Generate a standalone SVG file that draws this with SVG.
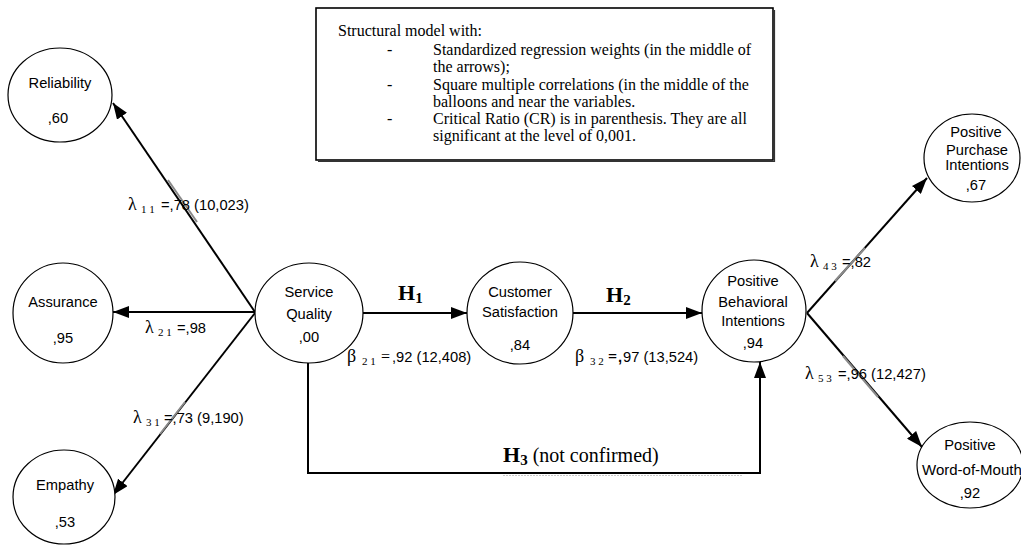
<svg xmlns="http://www.w3.org/2000/svg" width="1021" height="546" viewBox="0 0 1021 546">
<style>
.node{fill:#fff;stroke:#000;stroke-width:1.2}
.lbl{font-family:"Liberation Sans",Arial,sans-serif;font-size:14.7px;fill:#000;text-anchor:middle}
.note{font-family:"Liberation Serif","Times New Roman",serif;font-size:16px;fill:#000}
.conn{stroke:#000;stroke-width:2;fill:none}
.gray{stroke:#8a8a8a;stroke-width:2;fill:none}
.coef{font-family:"Liberation Sans",Arial,sans-serif;font-size:14.7px;fill:#000}
.gr{font-family:"Liberation Serif","Times New Roman",serif;font-size:18px}
.sub{font-family:"Liberation Serif","Times New Roman",serif;font-size:11px}
.hyp{font-family:"Liberation Serif","Times New Roman",serif;font-weight:bold;font-size:22px;fill:#000}
.hsub{font-family:"Liberation Serif","Times New Roman",serif;font-weight:bold;font-size:15px}
</style>
<defs>
<marker id="ah" markerUnits="userSpaceOnUse" viewBox="0 0 16 12" markerWidth="16" markerHeight="12" refX="16" refY="6" orient="auto">
<path d="M0,0 L16,6 L0,12 z" fill="#000"/>
</marker>
</defs>
<rect width="1021" height="546" fill="#fff"/>

<g id="legend">
<rect x="316" y="8" width="457" height="152" fill="#fff" stroke="#000" stroke-width="1.6"/>
<polyline points="318,161.5 774.5,161.5 774.5,10" fill="none" stroke="#333" stroke-width="1.2"/>
<text class="note" x="338" y="36">Structural model with:</text>
<text class="note" x="387" y="55">-</text>
<text class="note" x="433" y="55">Standardized regression weights (in the middle of</text>
<text class="note" x="433" y="72">the arrows);</text>
<text class="note" x="387" y="90">-</text>
<text class="note" x="433" y="90">Square multiple correlations (in the middle of the</text>
<text class="note" x="433" y="107">balloons and near the variables.</text>
<text class="note" x="387" y="124">-</text>
<text class="note" x="433" y="124">Critical Ratio (CR) is in parenthesis. They are all</text>
<text class="note" x="433" y="141">significant at the level of 0,001.</text>
</g>

<g id="connectors">
<line class="conn" x1="255" y1="312" x2="113" y2="103" marker-end="url(#ah)"/>
<line class="conn" x1="255" y1="312" x2="113" y2="312" marker-end="url(#ah)"/>
<line class="conn" x1="255" y1="313" x2="113" y2="495" marker-end="url(#ah)"/>
<line class="conn" x1="363" y1="313" x2="467" y2="313" marker-end="url(#ah)"/>
<line class="conn" x1="573" y1="313" x2="702" y2="313" marker-end="url(#ah)"/>
<polyline class="conn" points="308,363 308,473 760,473 760,362" marker-end="url(#ah)"/>
<line x1="503" y1="475.5" x2="743" y2="475.5" stroke="#c8c8c8" stroke-width="1" stroke-dasharray="2,1"/>
<line class="conn" x1="807" y1="313" x2="927" y2="178" marker-end="url(#ah)"/>
<line class="conn" x1="807" y1="313" x2="922" y2="447" marker-end="url(#ah)"/>
<line class="gray" x1="168" y1="180" x2="197" y2="222"/>
<line class="gray" x1="185" y1="402" x2="160" y2="434"/>
<line class="gray" x1="865" y1="248" x2="835" y2="281"/>
<line class="gray" x1="843" y1="356" x2="878" y2="397"/>
</g>

<g id="reliability">
<ellipse class="node" cx="60" cy="95" rx="52" ry="47"/>
<text class="lbl" x="60" y="88">Reliability</text>
<text class="lbl" x="58" y="123">,60</text>
</g>
<g id="assurance">
<ellipse class="node" cx="63" cy="313" rx="50" ry="50"/>
<text class="lbl" x="63" y="307">Assurance</text>
<text class="lbl" x="63" y="343">,95</text>
</g>
<g id="empathy">
<ellipse class="node" cx="64" cy="497" rx="51" ry="47"/>
<text class="lbl" x="65" y="490">Empathy</text>
<text class="lbl" x="65" y="527">,53</text>
</g>
<g id="service-quality">
<ellipse class="node" cx="309" cy="313" rx="54" ry="50"/>
<text class="lbl" x="309" y="297">Service</text>
<text class="lbl" x="309" y="319">Quality</text>
<text class="lbl" x="309" y="342">,00</text>
</g>
<g id="customer-satisfaction">
<ellipse class="node" cx="520" cy="313" rx="53" ry="51"/>
<text class="lbl" x="520" y="297">Customer</text>
<text class="lbl" x="520" y="317">Satisfaction</text>
<text class="lbl" x="520" y="350">,84</text>
</g>
<g id="positive-behavioral-intentions">
<ellipse class="node" cx="754" cy="311" rx="52" ry="51"/>
<text class="lbl" x="753" y="286">Positive</text>
<text class="lbl" x="753" y="307">Behavioral</text>
<text class="lbl" x="753" y="326">Intentions</text>
<text class="lbl" x="753" y="348">,94</text>
</g>
<g id="positive-purchase-intentions">
<ellipse class="node" cx="972" cy="158" rx="48" ry="44"/>
<text class="lbl" x="976" y="137">Positive</text>
<text class="lbl" x="977" y="155">Purchase</text>
<text class="lbl" x="977" y="170">Intentions</text>
<text class="lbl" x="976" y="190">,67</text>
</g>
<g id="positive-word-of-mouth">
<ellipse class="node" cx="970" cy="465" rx="53" ry="43"/>
<text class="lbl" x="970" y="450">Positive</text>
<text class="coef" x="922" y="475" style="font-size:15px">Word-of-Mouth</text>
<text class="lbl" x="970" y="498">,92</text>
</g>

<g id="labels">
<text class="coef" x="128" y="210"><tspan class="gr">λ</tspan><tspan class="sub" x="141" y="213">1 1</tspan><tspan x="161" y="210">=,78 (10,023)</tspan></text>
<text class="coef" x="145" y="333"><tspan class="gr">λ</tspan><tspan class="sub" x="158" y="336">2 1</tspan><tspan x="177" y="333">=,98</tspan></text>
<text class="coef" x="133" y="423"><tspan class="gr">λ</tspan><tspan class="sub" x="146" y="426">3 1</tspan><tspan x="164" y="423">=,73 (9,190)</tspan></text>
<text class="coef" x="810" y="267"><tspan class="gr">λ</tspan><tspan class="sub" x="823" y="270">4 3</tspan><tspan x="842" y="267">=,82</tspan></text>
<text class="coef" x="805" y="379"><tspan class="gr">λ</tspan><tspan class="sub" x="818" y="382">5 3</tspan><tspan x="838" y="379">=,96 (12,427)</tspan></text>
<text class="coef" x="347" y="362"><tspan class="gr">β</tspan><tspan class="sub" x="362" y="365">2 1</tspan><tspan class="gr" x="381" y="362" style="font-size:16px">=</tspan><tspan x="392" y="362">,92 (12,408)</tspan></text>
<text class="coef" x="575" y="362"><tspan class="gr">β</tspan><tspan class="sub" x="590" y="365">3 2</tspan><tspan class="gr" x="608" y="362" style="font-size:16px;font-weight:bold">=</tspan><tspan x="618" y="362" style="font-weight:bold">,</tspan><tspan x="623" y="362">97 (13,524)</tspan></text>
<text class="hyp" x="398" y="300">H<tspan class="hsub" dy="3">1</tspan></text>
<text class="hyp" x="606" y="302">H<tspan class="hsub" dy="3">2</tspan></text>
<text class="hyp" x="503" y="462">H<tspan class="hsub" dy="3">3</tspan><tspan dy="-3" style="font-weight:normal;font-size:20px"> (not confirmed)</tspan></text>
</g>
</svg>
